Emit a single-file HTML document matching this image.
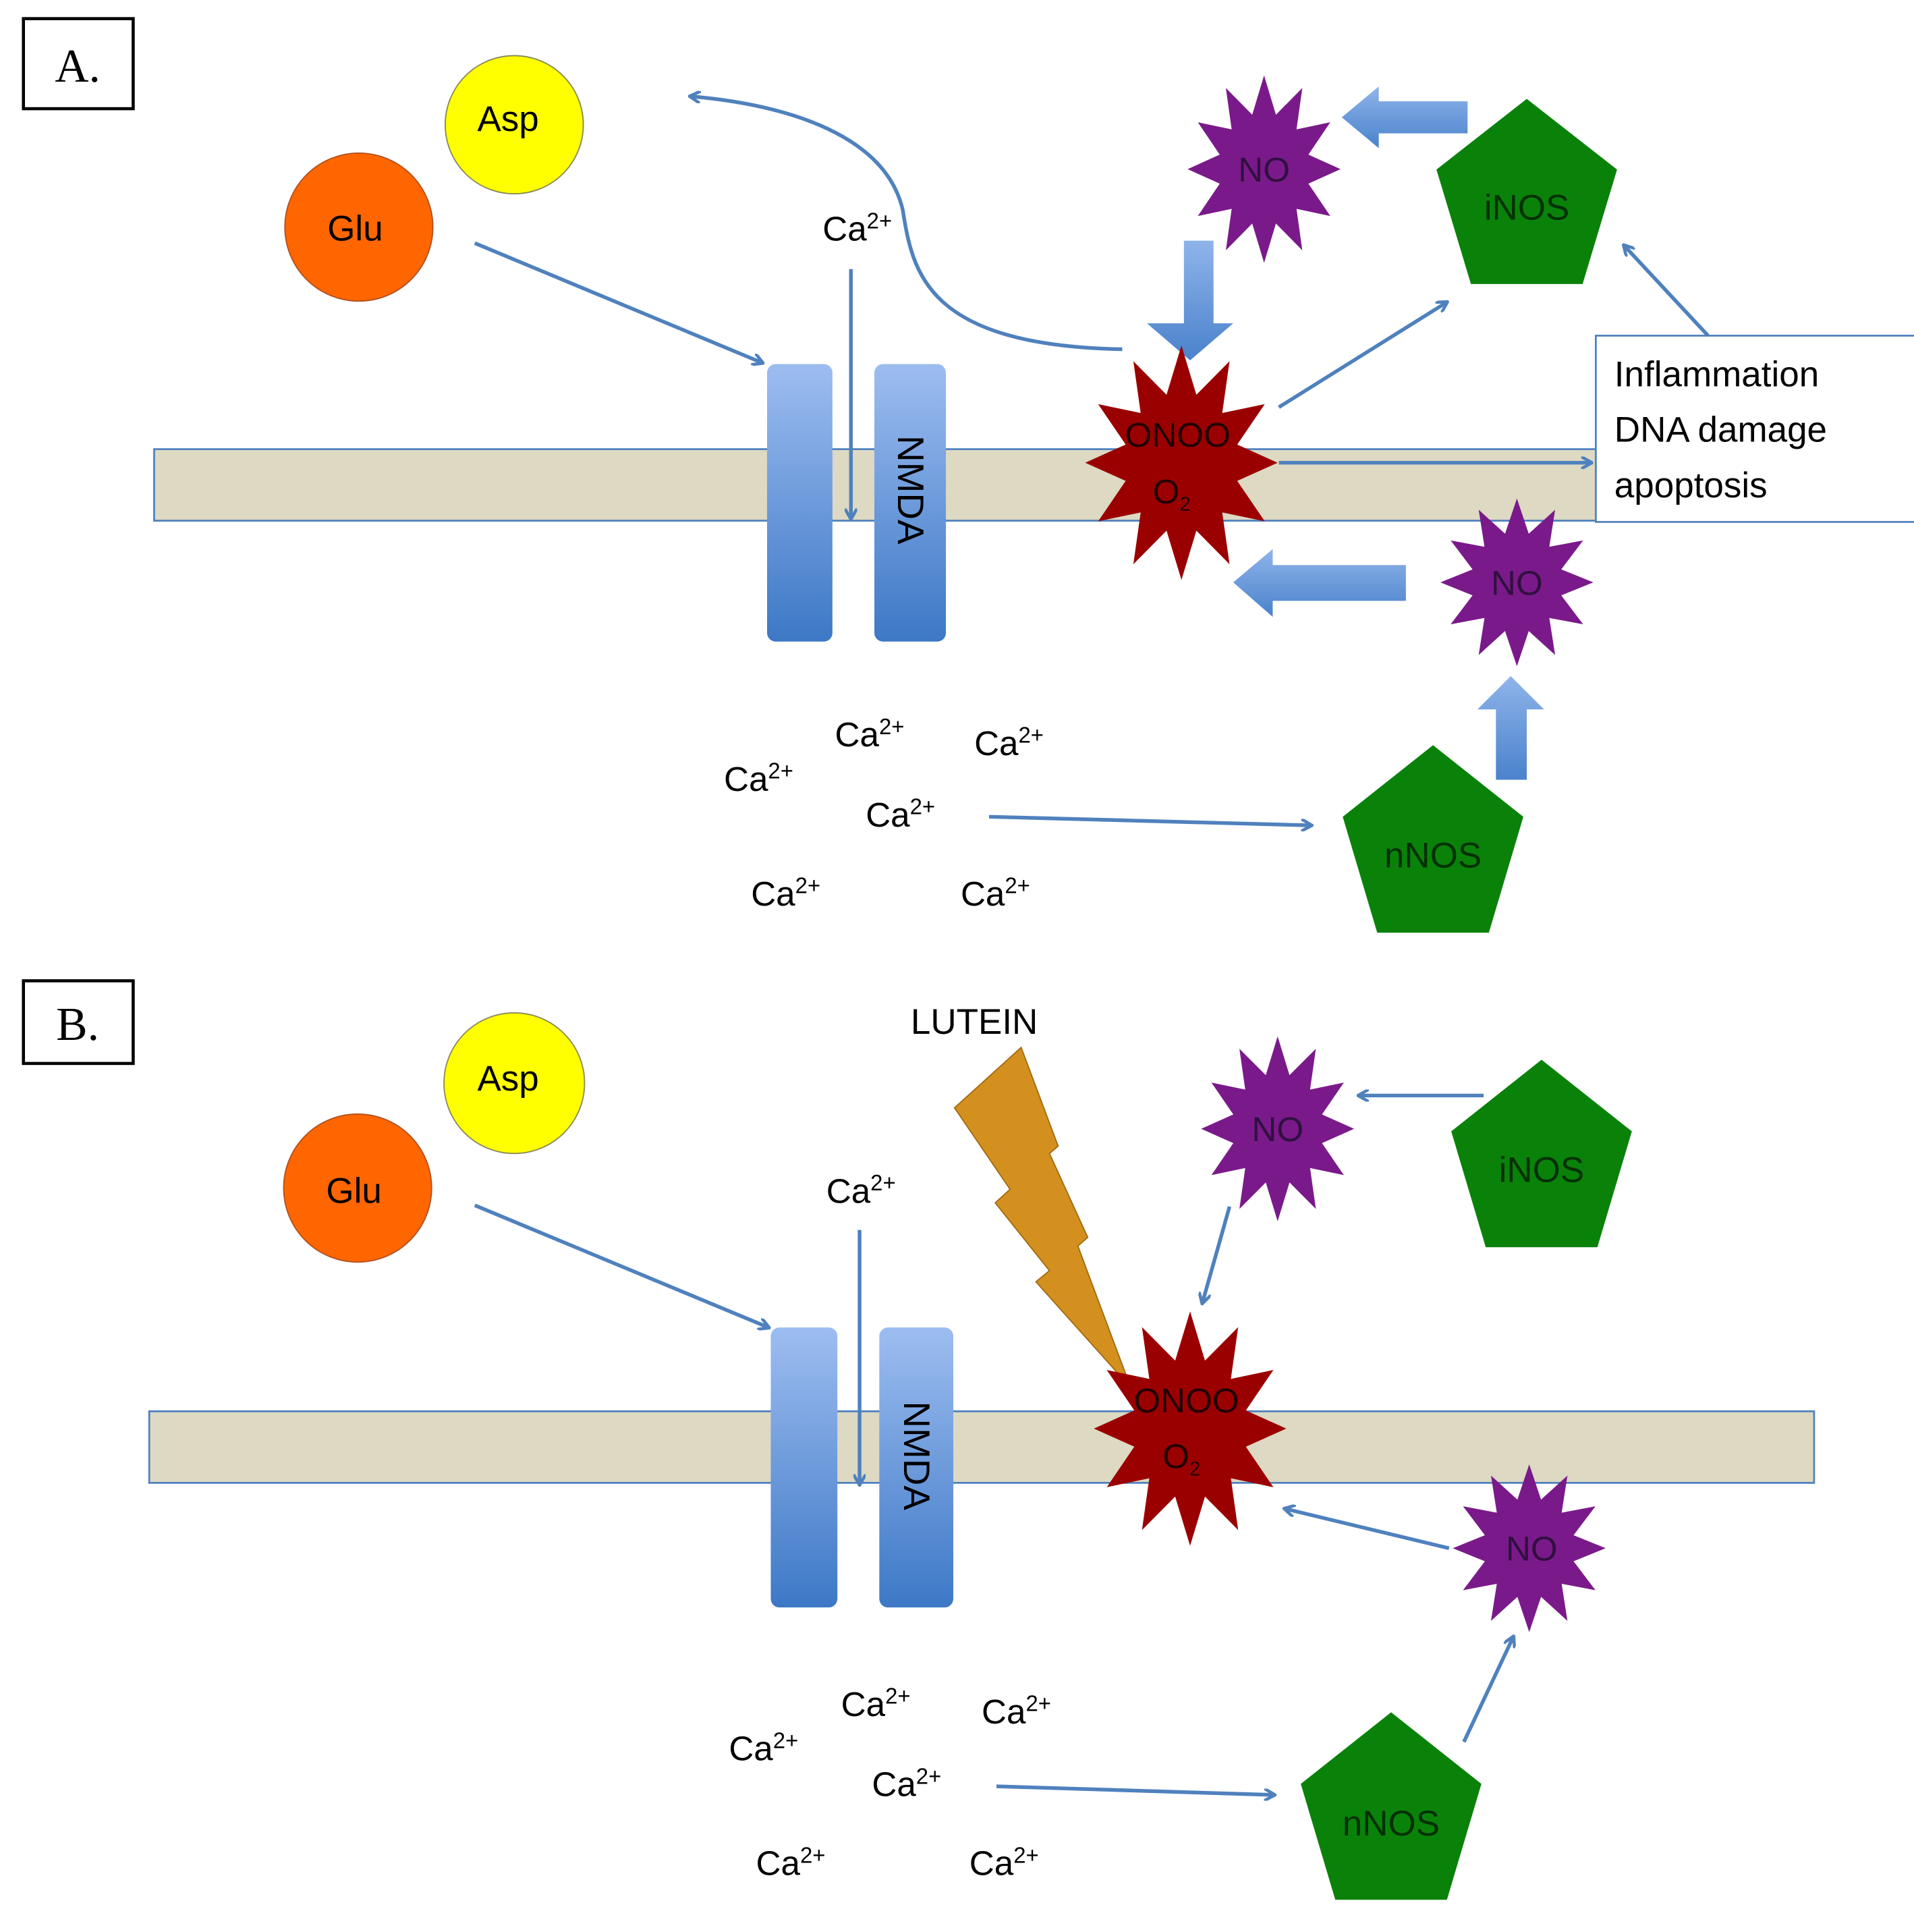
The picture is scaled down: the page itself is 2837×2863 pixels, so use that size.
<!DOCTYPE html>
<html><head><meta charset="utf-8"><style>
html,body{margin:0;padding:0;background:#fff;}
svg{display:block;}
text{font-family:"Liberation Sans",sans-serif;}
</style></head><body>
<svg width="2837" height="2863" viewBox="0 0 1552 1566" xmlns="http://www.w3.org/2000/svg">
<defs>
<polygon id="star" points="1,0 .58,.155 .866,.5 .424,.424 .5,.866 .155,.58 0,1 -.155,.58 -.5,.866 -.424,.424 -.866,.5 -.58,.155 -1,0 -.58,-.155 -.866,-.5 -.424,-.424 -.5,-.866 -.155,-.58 0,-1 .155,-.58 .5,-.866 .424,-.424 .866,-.5 .58,-.155"/>
<polygon id="pent" points="0,-1 .951,-.309 .588,.809 -.588,.809 -.951,-.309"/>
<linearGradient id="ch" x1="0" y1="0" x2="0" y2="1"><stop offset="0" stop-color="#9dbdf0"/><stop offset="1" stop-color="#3d78c6"/></linearGradient>
<linearGradient id="ba" x1="0" y1="0" x2="0" y2="1"><stop offset="0" stop-color="#8fb4ea"/><stop offset="1" stop-color="#4a82cc"/></linearGradient>
<marker id="ah" markerWidth="10" markerHeight="10" refX="8" refY="5" orient="auto" markerUnits="userSpaceOnUse" viewBox="0 0 10 10"><path d="M0,0 L9,5 L0,10" fill="none" stroke="#4f81bd" stroke-width="2.5"/></marker>
</defs>

<!-- ===== Panel A ===== -->
<rect x="19" y="15" width="89" height="73" fill="#fff" stroke="#000" stroke-width="2.5"/>
<text x="63" y="66" font-size="38" text-anchor="middle" style="font-family:'Liberation Serif',serif">A.</text>

<rect x="125" y="364" width="1200" height="58" fill="#ddd9c3" stroke="#4f81bd" stroke-width="1.5"/>
<rect x="1294" y="272" width="270" height="151" fill="#fff" stroke="#4f81bd" stroke-width="1.5"/>
<text font-size="29" fill="#000"><tspan x="1309" y="313">Inflammation</tspan><tspan x="1309" y="358">DNA damage</tspan><tspan x="1309" y="403">apoptosis</tspan></text>

<circle cx="417" cy="101" r="56" fill="#ffff00" stroke="#8a8a5a" stroke-width="1"/>
<text x="412" y="106" font-size="29" text-anchor="middle">Asp</text>
<circle cx="291" cy="184" r="60" fill="#ff6600" stroke="#b05020" stroke-width="1"/>
<text x="288" y="195" font-size="29" text-anchor="middle">Glu</text>

<rect x="622" y="295" width="53" height="225" rx="7" fill="url(#ch)"/>
<rect x="709" y="295" width="58" height="225" rx="7" fill="url(#ch)"/>
<text transform="translate(728,397) rotate(90)" font-size="30" text-anchor="middle">NMDA</text>

<g stroke="#4f81bd" stroke-width="3" fill="none" marker-end="url(#ah)">
<line x1="385" y1="197" x2="618" y2="294"/>
<line x1="690" y1="218" x2="690" y2="420"/>
<path d="M910,283 C 750,280 740,220 732,170 C 718,110 640,85 560,78"/>
<line x1="1037" y1="330" x2="1173" y2="245"/>
<line x1="1037" y1="375" x2="1290" y2="375"/>
<line x1="1385" y1="272" x2="1317" y2="199"/>
<line x1="802" y1="662" x2="1063" y2="669"/>
</g>
<text x="667" y="195" font-size="28">Ca<tspan font-size="18" dy="-10">2+</tspan></text>

<polygon points="1190,82 1118,82 1118,70 1088,95 1118,120 1118,108 1190,108" fill="url(#ba)"/>
<polygon points="960,195 984,195 984,262 1000,262 965,292 930,262 960,262" fill="url(#ba)"/>
<polygon points="1140,458 1032,458 1032,445 1000,472 1032,500 1032,487 1140,487" fill="url(#ba)"/>
<polygon points="1213,632 1238,632 1238,575 1252,575 1225,548 1198,575 1213,575" fill="url(#ba)"/>

<use href="#star" transform="translate(958,375) scale(78,95)" fill="#9b0000"/>
<text x="955" y="362" font-size="28" text-anchor="middle" fill="#200">ONOO</text>
<text x="950" y="408" font-size="28" text-anchor="middle" fill="#200">O<tspan font-size="16" dy="6">2</tspan></text>

<use href="#star" transform="translate(1025,137) scale(62,76)" fill="#7a1a8a"/>
<text x="1025" y="147" font-size="28" text-anchor="middle" fill="#301040">NO</text>
<use href="#pent" transform="translate(1238,163) scale(77,83)" fill="#0a820a"/>
<text x="1238" y="178" font-size="29" text-anchor="middle" fill="#043004">iNOS</text>

<use href="#star" transform="translate(1230,472) scale(62,68)" fill="#7a1a8a"/>
<text x="1230" y="482" font-size="28" text-anchor="middle" fill="#301040">NO</text>
<use href="#pent" transform="translate(1162,688) scale(77,84)" fill="#0a820a"/>
<text x="1162" y="703" font-size="29" text-anchor="middle" fill="#043004">nNOS</text>

<g font-size="28">
<text x="677" y="605">Ca<tspan font-size="18" dy="-10">2+</tspan></text>
<text x="790" y="612">Ca<tspan font-size="18" dy="-10">2+</tspan></text>
<text x="587" y="641">Ca<tspan font-size="18" dy="-10">2+</tspan></text>
<text x="702" y="670">Ca<tspan font-size="18" dy="-10">2+</tspan></text>
<text x="609" y="734">Ca<tspan font-size="18" dy="-10">2+</tspan></text>
<text x="779" y="734">Ca<tspan font-size="18" dy="-10">2+</tspan></text>
</g>

<!-- ===== Panel B ===== -->
<rect x="19" y="795" width="89" height="67" fill="#fff" stroke="#000" stroke-width="2.5"/>
<text x="63" y="843" font-size="38" text-anchor="middle" style="font-family:'Liberation Serif',serif">B.</text>

<rect x="121" y="1144" width="1350" height="58" fill="#ddd9c3" stroke="#4f81bd" stroke-width="1.5"/>

<circle cx="417" cy="878" r="57" fill="#ffff00" stroke="#8a8a5a" stroke-width="1"/>
<text x="412" y="884" font-size="29" text-anchor="middle">Asp</text>
<circle cx="290" cy="963" r="60" fill="#ff6600" stroke="#b05020" stroke-width="1"/>
<text x="287" y="975" font-size="29" text-anchor="middle">Glu</text>

<rect x="625" y="1076" width="54" height="227" rx="7" fill="url(#ch)"/>
<rect x="713" y="1076" width="60" height="227" rx="7" fill="url(#ch)"/>
<text transform="translate(733,1180) rotate(90)" font-size="30" text-anchor="middle">NMDA</text>

<g stroke="#4f81bd" stroke-width="3" fill="none" marker-end="url(#ah)">
<line x1="385" y1="977" x2="623" y2="1076"/>
<line x1="697" y1="997" x2="697" y2="1203"/>
<line x1="1203" y1="888" x2="1102" y2="888"/>
<line x1="997" y1="978" x2="975" y2="1056"/>
<line x1="1175" y1="1255" x2="1042" y2="1223"/>
<line x1="1187" y1="1412" x2="1227" y2="1327"/>
<line x1="808" y1="1448" x2="1033" y2="1455"/>
</g>
<text x="670" y="975" font-size="28">Ca<tspan font-size="18" dy="-10">2+</tspan></text>
<text x="790" y="838" font-size="29" text-anchor="middle">LUTEIN</text>
<polygon points="774,898 828,849 858,929 851,935 882,1003 874,1010 917,1125 840,1039 851,1030 807,975 819,964" fill="#d4901f" stroke="#a06a10" stroke-width="1"/>

<use href="#star" transform="translate(965,1158) scale(78,95)" fill="#9b0000"/>
<text x="962" y="1145" font-size="28" text-anchor="middle" fill="#200">ONOO</text>
<text x="958" y="1190" font-size="28" text-anchor="middle" fill="#200">O<tspan font-size="16" dy="6">2</tspan></text>

<use href="#star" transform="translate(1036,915) scale(62,75)" fill="#7a1a8a"/>
<text x="1036" y="925" font-size="28" text-anchor="middle" fill="#301040">NO</text>
<use href="#pent" transform="translate(1250,943) scale(77,84)" fill="#0a820a"/>
<text x="1250" y="958" font-size="29" text-anchor="middle" fill="#043004">iNOS</text>

<use href="#star" transform="translate(1240,1255) scale(62,68)" fill="#7a1a8a"/>
<text x="1242" y="1265" font-size="28" text-anchor="middle" fill="#301040">NO</text>
<use href="#pent" transform="translate(1128,1472) scale(77,84)" fill="#0a820a"/>
<text x="1128" y="1488" font-size="29" text-anchor="middle" fill="#043004">nNOS</text>

<g font-size="28">
<text x="682" y="1391">Ca<tspan font-size="18" dy="-10">2+</tspan></text>
<text x="796" y="1397">Ca<tspan font-size="18" dy="-10">2+</tspan></text>
<text x="591" y="1427">Ca<tspan font-size="18" dy="-10">2+</tspan></text>
<text x="707" y="1456">Ca<tspan font-size="18" dy="-10">2+</tspan></text>
<text x="613" y="1520">Ca<tspan font-size="18" dy="-10">2+</tspan></text>
<text x="786" y="1520">Ca<tspan font-size="18" dy="-10">2+</tspan></text>
</g>
</svg>
</body></html>
